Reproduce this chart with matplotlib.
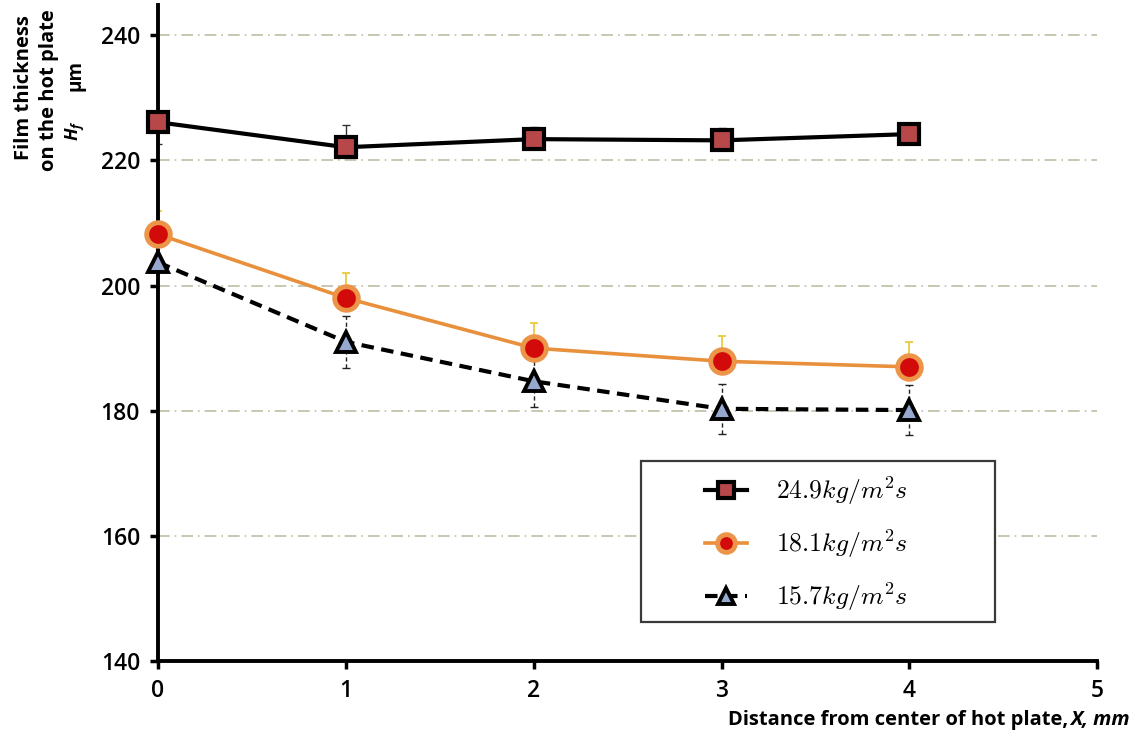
import matplotlib
matplotlib.use("Agg")
import matplotlib.pyplot as plt
from matplotlib.patches import Rectangle

plt.rcParams['font.family'] = ['Open Sans', 'DejaVu Sans']
plt.rcParams['mathtext.fontset'] = 'cm'
plt.rcParams['mathtext.it'] = 'Open Sans:italic:bold'
plt.rcParams['mathtext.rm'] = 'Open Sans:bold'
plt.rcParams['mathtext.bf'] = 'Open Sans:bold'

# Distance from centre of hot plate (mm)
x_mm = [0, 1, 2, 3, 4]

# Film thickness (um) for three mass fluxes
h_249 = [226.1, 222.1, 223.4, 223.2, 224.2]
h_181 = [208.2, 198.0, 190.0, 187.9, 187.0]
h_157 = [203.7, 191.0, 184.7, 180.3, 180.1]

# Error bar extents (lower, upper)
err_249_lo = [3.5, 0, 0, 0, 1.5]
err_249_hi = [0, 3.5, 2.0, 2.0, 0]
err_181_lo = [0, 0, 0, 0, 0]
err_181_hi = [3.7, 4.0, 4.0, 4.0, 4.0]
err_157 = [0, 4.2, 4.1, 4.0, 4.0]

labels = [r'$24.9kg/m^2s$', r'$18.1kg/m^2s$', r'$15.7kg/m^2s$']

fig = plt.figure(figsize=(11.37, 7.44), dpi=100)
ax = fig.add_axes([0.139, 0.1116, 0.826, 0.8814])

# error bars first, under the markers
ax.errorbar(x_mm, h_249, yerr=[err_249_lo, err_249_hi], fmt='none',
            ecolor='#333333', elinewidth=1.0, capsize=3, capthick=1.0, zorder=2)
ax.errorbar(x_mm, h_181, yerr=[err_181_lo, err_181_hi], fmt='none',
            ecolor='#e8c630', elinewidth=1.2, capsize=3, capthick=1.2, zorder=2)
eb3 = ax.errorbar(x_mm, h_157, yerr=[err_157, err_157], fmt='none',
                  ecolor='#222222', elinewidth=1.0, capsize=3, capthick=1.0, zorder=2)
eb3[2][0].set_linestyle((0, (3, 2)))

l1, = ax.plot(x_mm, h_249, color='black', lw=3.0, marker='s', ms=15,
              mfc='#b8474a', mec='black', mew=3.0, zorder=5, label=labels[0],
              clip_on=False)
l2, = ax.plot(x_mm, h_181, color='#e8903c', lw=2.6, marker='o', ms=17,
              mfc='#d20a0a', mec='#ec9448', mew=3.5, zorder=4, label=labels[1],
              clip_on=False)
l3, = ax.plot(x_mm, h_157, color='black', lw=3.0, ls=(0, (3, 1.8)), marker='^', ms=15,
              mfc='#97a8cf', mec='black', mew=2.8, zorder=3, label=labels[2],
              clip_on=False)

ax.set_xlim(0, 5)
ax.set_ylim(140, 244.8)
ax.set_xticks([0, 1, 2, 3, 4, 5])
ax.set_yticks([140, 160, 180, 200, 220, 240])

for y in [160, 180, 200, 220, 240]:
    ax.axhline(y, color='#bcbfa6', lw=1.2, ls=(0, (7, 3, 1, 3)), zorder=1)

for side in ['top', 'right']:
    ax.spines[side].set_visible(False)
for side in ['left', 'bottom']:
    ax.spines[side].set_linewidth(2.8)

ax.tick_params(axis='both', direction='out', length=6, width=2.5,
               labelsize=16.5, pad=7)
for lab in ax.get_xticklabels() + ax.get_yticklabels():
    lab.set_fontweight('semibold')

# y-axis title in three rotated columns
fig.text(0.021, 0.882, 'Film thickness', rotation=90, ha='center', va='center',
         fontsize=14.5, fontweight='bold')
fig.text(0.043, 0.879, 'on the hot plate', rotation=90, ha='center', va='center',
         fontsize=14.5, fontweight='bold')
fig.text(0.066, 0.824, r'$H_f$', rotation=90, ha='center', va='center',
         fontsize=13, math_fontfamily='custom')
fig.text(0.066, 0.899, 'μm', rotation=90, ha='center', va='center',
         fontsize=13.5, fontweight='bold')

# x-axis title: upright part followed by an italic part
renderer = fig.canvas.get_renderer()
t_it = fig.text(0.994, 0.032, 'X, mm', ha='right', va='center',
                fontsize=14.5, fontweight='bold', style='italic')
bb = t_it.get_window_extent(renderer=renderer)
x_left = bb.x0 / fig.bbox.width
fig.text(x_left - 0.002, 0.032, 'Distance from center of hot plate,', ha='right',
         va='center', fontsize=14.5, fontweight='bold')

# legend with a separately drawn frame
fig.patches.append(Rectangle((641 / 1137, 1 - 622 / 744), 354 / 1137, 161 / 744,
                             transform=fig.transFigure, facecolor='white',
                             edgecolor='#3a3a3a', lw=1.6, zorder=10))
leg = fig.legend(handles=[l1, l2, l3], loc='upper left',
                 bbox_to_anchor=(705 / 1137, 1 - 475 / 744), fontsize=18.5,
                 frameon=False, labelspacing=0.8, handlelength=1.65,
                 borderpad=0, borderaxespad=0, markerscale=0.75,
                 handletextpad=1.1)
leg.set_zorder(11)

fig.savefig('out.png', dpi=100)
